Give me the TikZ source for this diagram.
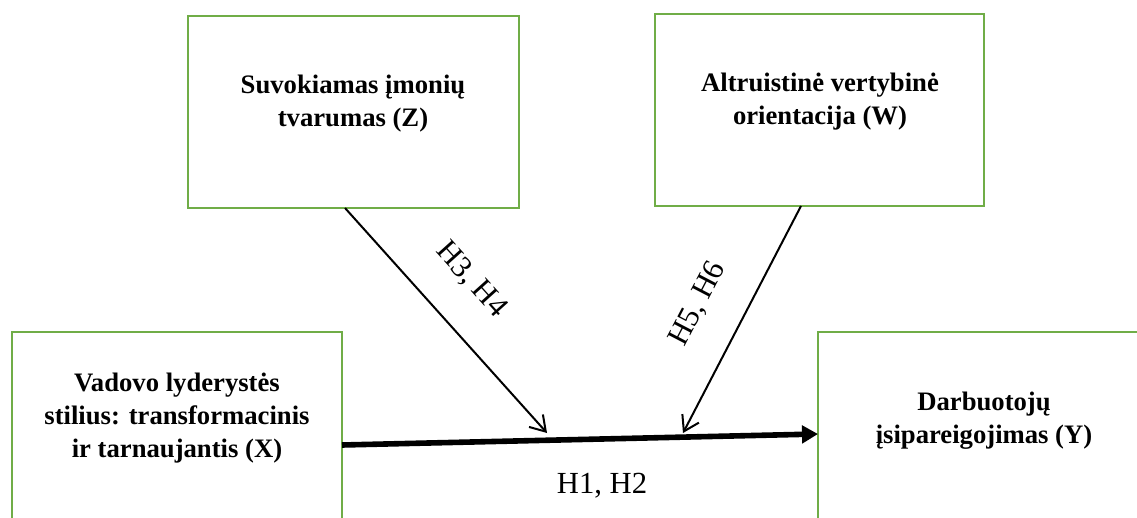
\documentclass[tikz,border=0pt]{standalone}
\usepackage{fontspec}
\setmainfont{Liberation Serif}
\usetikzlibrary{arrows.meta}
\definecolor{boxgreen}{RGB}{112,173,71}
\begin{document}
\begin{tikzpicture}[x=0.75pt,y=-0.75pt,
  box/.style={draw=boxgreen, line width=2.1pt, rectangle, inner sep=0pt},
  boxtext/.style={align=center, font=\fontsize{20}{24.75}\selectfont\bfseries, inner sep=0pt},
  hlabel/.style={font=\fontsize{23}{27}\selectfont, inner sep=0pt},
  thinarrow/.style={line width=1.5pt, -{Straight Barb[length=11pt,width=14pt,line width=1.5pt]}},
  mainarrow/.style={line width=4.2pt, -{Triangle[length=12pt,width=13pt]}}]
\useasboundingbox (0,0) rectangle (1137,517);
\clip (0,0) rectangle (1137,517);
% boxes
\node[box, minimum width=248.25pt, minimum height=144pt] (Z) at (353.5,112) {};
\node[box, minimum width=246.75pt, minimum height=144pt] (W) at (819.5,110) {};
\node[box, minimum width=247.5pt, minimum height=156pt] (X) at (177,436) {};
\node[box, minimum width=249pt, minimum height=156pt] (Y) at (984,436) {};
% texts
\node[boxtext] (Zt) at (353,104) {Suvokiamas įmonių\\tvarumas (Z)};
\node[boxtext] (Wt) at (820,102) {Altruistinė vertybinė\\orientacija (W)};
\node[boxtext] (Xt) at (177,418) {Vadovo lyderystės\\stilius: transformacinis\\ir tarnaujantis (X)};
\node[boxtext] (Yt) at (984,421) {Darbuotojų\\įsipareigojimas (Y)};
% connector end points
\coordinate (xs) at (342,445);
\coordinate (ye) at (818,434);
\coordinate (zs) at (345,208);
\coordinate (ze) at (547,433);
\coordinate (ws) at (801,206);
\coordinate (we) at (683,433);
% connectors
\draw[mainarrow] (xs) -- (ye);
\draw[thinarrow] (zs) -- (ze);
\draw[thinarrow] (ws) -- (we);
% labels
\node[hlabel, rotate=-48] (h34) at (471,280) {H3, H4};
\node[hlabel, rotate=62.5] (h56) at (698,304) {H5, H6};
\node[hlabel, anchor=base] (h12) at (602,493) {H1, H2};
\end{tikzpicture}
\end{document}
